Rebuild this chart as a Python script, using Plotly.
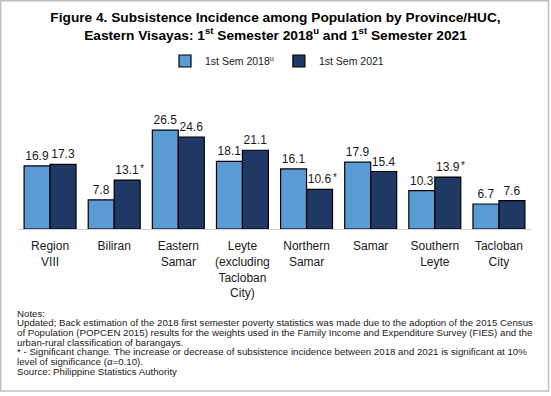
import plotly.graph_objects as go

categories = ["Region<br>VIII", "Biliran", "Eastern<br>Samar", "Leyte<br>(excluding<br>Tacloban<br>City)",
              "Northern<br>Samar", "Samar", "Southern<br>Leyte", "Tacloban<br>City"]
sem2018 = [16.9, 7.8, 26.5, 18.1, 16.1, 17.9, 10.3, 6.7]
sem2021 = [17.3, 13.1, 24.6, 21.1, 10.6, 15.4, 13.9, 7.6]
significant = [False, True, False, False, True, False, True, False]
note_lines = [
    "Notes:",
    "Updated; Back estimation of the 2018 first semester poverty statistics was made due to the adoption of the 2015 Census",
    "of Population (POPCEN 2015) results for the weights used in the Family Income and Expenditure Survey (FIES) and the",
    "urban-rural classification of barangays.",
    "* - Significant change. The increase or decrease of subsistence incidence between 2018 and 2021 is significant at 10%",
    "level of significance (\u03b1=0.10).",
    "Source: Philippine Statistics Authority",
]

LIGHT = "#5B9BD5"
DARK = "#203864"
FONT = "Liberation Sans, Arial, sans-serif"

W, H = 551, 396
L, R, T, B = 18, 20, 117, 167
pw, ph = W - L - R, H - T - B

def px_x(p):
    return (p - L) / pw

def px_y(p):
    return (H - B - p) / ph

fig = go.Figure()
fig.add_trace(go.Bar(
    x=categories, y=sem2018, name="1st Sem 2018<sup>u</sup>",
    marker=dict(color=LIGHT, line=dict(color="black", width=1.2)),
    text=[f"{v:.1f}" for v in sem2018], textposition="outside",
    textfont=dict(size=12, color="#1a1a1a", family=FONT), cliponaxis=False,
))
fig.add_trace(go.Bar(
    x=categories, y=sem2021, name="1st Sem 2021",
    marker=dict(color=DARK, line=dict(color="black", width=1.2)),
    text=[f"{v:.1f}" for v in sem2021], textposition="outside",
    textfont=dict(size=12, color="#1a1a1a", family=FONT), cliponaxis=False,
))

# significance asterisks
for c, v, s in zip(categories, sem2021, significant):
    if s:
        fig.add_annotation(x=c, y=v, text="*", showarrow=False, xshift=28, yshift=12,
                           font=dict(size=10, color="#1a1a1a", family=FONT))

for i, line in enumerate(note_lines):
    fig.add_annotation(xref="paper", yref="paper", x=px_x(15), y=px_y(313 + i * 9.7),
                       xanchor="left", yanchor="middle", text=line, showarrow=False, align="left",
                       font=dict(size=9.7, color="#1a1a1a", family=FONT))

# outer border
fig.add_shape(type="rect", xref="paper", yref="paper",
              x0=px_x(0.7), x1=px_x(548.5), y0=px_y(391), y1=px_y(0.7),
              line=dict(color="#BFBFBF", width=1.5), fillcolor="rgba(0,0,0,0)")

fig.update_layout(
    width=W, height=H,
    margin=dict(l=L, r=R, t=T, b=B, autoexpand=False),
    paper_bgcolor="white", plot_bgcolor="white",
    barmode="group", bargap=0.19, bargroupgap=0,
    title=dict(text="Figure 4. Subsistence Incidence among Population by Province/HUC,<br>"
                    "Eastern Visayas: 1<sup>st</sup> Semester 2018<sup>u</sup> and 1<sup>st</sup> Semester 2021",
               x=0.5, xanchor="center", y=1 - 22 / H, yanchor="top",
               font=dict(size=13.7, color="black", family=FONT, weight="bold")),
    legend=dict(orientation="h", x=px_x(165), xanchor="left", y=px_y(61), yanchor="middle",
                font=dict(size=10.5, color="#1a1a1a", family=FONT), itemwidth=30,
                bgcolor="rgba(0,0,0,0)"),
    xaxis=dict(showline=True, linecolor="#D0D0D0", linewidth=1, ticks="", showgrid=False,
               ticklabelstandoff=6,
               tickfont=dict(size=12, color="#1a1a1a", family=FONT)),
    yaxis=dict(range=[0, 30], visible=False, showgrid=False),
    font=dict(family=FONT),
)

fig.write_html("out.html", config={"displayModeBar": False},
               post_script="document.body.style.margin='0';document.body.style.padding='0';")
